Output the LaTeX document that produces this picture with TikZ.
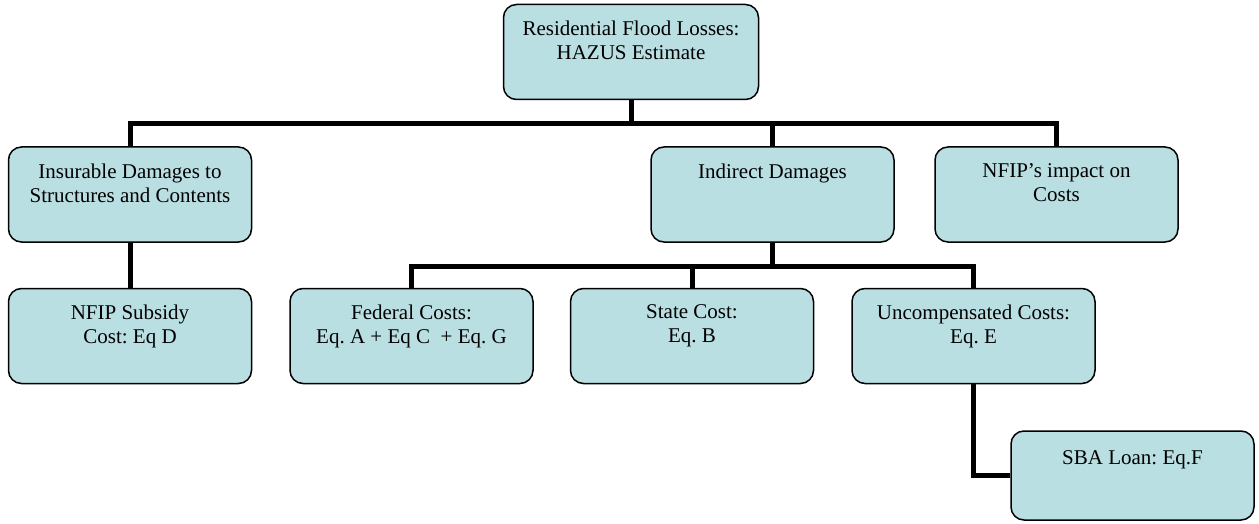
\documentclass[tikz,border=0pt]{standalone}
\usepackage{fontspec}
\setmainfont{Liberation Serif}
\usepackage{tikz}
\usetikzlibrary{positioning, calc}

\definecolor{boxfill}{RGB}{186,223,226}

\tikzset{
	costbox/.style={draw, fill=boxfill, line width=1.5pt, rounded corners=13pt,
		minimum width=243pt, minimum height=95pt, inner sep=0pt},
	costtext/.style={anchor=north, align=center, inner sep=0pt, yshift=-17pt,
		font=\fontsize{21}{24}\selectfont\frenchspacing},
	link/.style={line width=5pt}
}

\begin{document}
\begin{tikzpicture}[x=1pt, y=-1pt]
		
		\useasboundingbox (0,0) rectangle (1259,524);
		
		% boxes
		\node[costbox, minimum width=255pt] (hazus) at (631,52) {};
		\node[costbox] (ins) at (130,194.5) {};
		\node[costbox] (ind) at (772.5,194.5) {};
		\node[costbox] (nfip) at (1056.5,194.5) {};
		\node[costbox] (sub) at (130,336) {};
		\node[costbox] (fed) at (411.5,336) {};
		\node[costbox] (state) at (692,336) {};
		\node[costbox] (unc) at (973.5,336) {};
		\node[costbox, minimum height=89pt] (sba) at (1132.5,475.5) {};
		
		% texts
		\node[costtext] (hazus-t) at (hazus.north) {Residential Flood Losses:\\HAZUS Estimate};
		\node[costtext] (ins-t) at (ins.north) {Insurable Damages to\\Structures and Contents};
		\node[costtext] (ind-t) at (ind.north) {Indirect Damages};
		\node[costtext] (nfip-t) at (nfip.north) {NFIP’s impact on\\Costs};
		\node[costtext] (sub-t) at (sub.north) {NFIP Subsidy\\Cost: Eq D};
		\node[costtext] (fed-t) at (fed.north) {Federal Costs:\\Eq. A + Eq C\ \ + Eq. G};
		\node[costtext] (state-t) at (state.north) {State Cost:\\Eq. B};
		\node[costtext] (unc-t) at (unc.north) {Uncompensated Costs:\\Eq. E};
		\node[costtext, yshift=-3pt] (sba-t) at (sba.north) {SBA Loan: Eq.F};
		
		% connectors
		\coordinate (bus) at (0,124);
		\coordinate (bus2) at (0,266);
		
		\draw[link] (hazus.south) -- (hazus.south |- bus);
		\draw[link] (ins.north) -- (ins.north |- bus) -| (nfip.north);
		\draw[link] (ind.north) -- (ind.north |- bus);
		
		\draw[link] (ins.south) -- (sub.north);
		
		\draw[link] (ind.south) -- (ind.south |- bus2);
		\draw[link] (fed.north) -- (fed.north |- bus2) -| (unc.north);
		\draw[link] (state.north) -- (state.north |- bus2);
		
		\draw[link] (unc.south) |- (sba.west);
		
		\end{tikzpicture}
\end{document}
